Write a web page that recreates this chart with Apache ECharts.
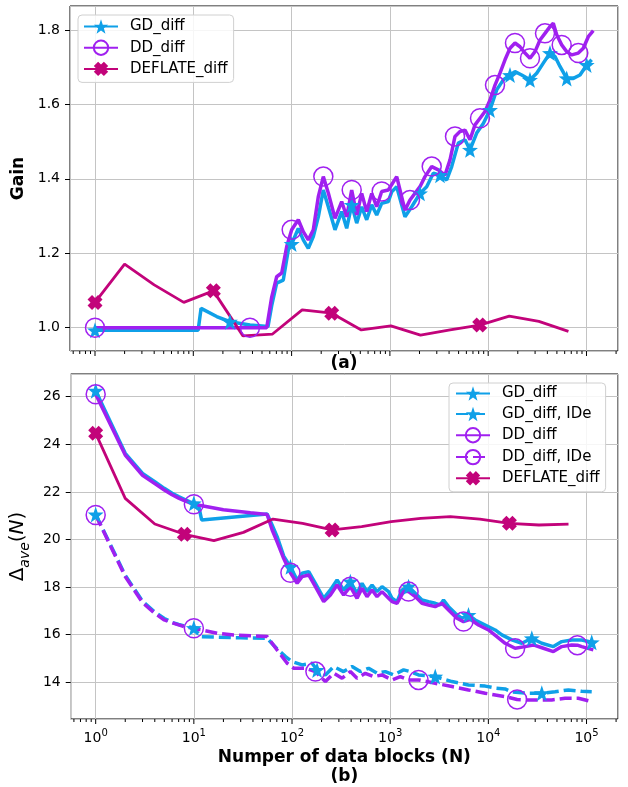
<!DOCTYPE html>
<html>
<head>
<meta charset="utf-8">
<script src="https://cdn.jsdelivr.net/npm/echarts@6/dist/echarts.min.js"></script>
<style>
  html, body { margin: 0; padding: 0; background: #fff; }
  #chart { width: 628px; height: 787px; }
</style>
</head>
<body>
<div id="chart"></div>
<script>
const deflateN = [1, 2, 4, 8, 16, 32, 64, 128, 256, 512, 1024, 2048, 4096, 8192, 16384, 32768, 65536];
const deflateGain = [1.068, 1.171, 1.115, 1.068, 1.099, 0.978, 0.983, 1.048, 1.039, 0.994, 1.005, 0.98, 0.994, 1.007, 1.031, 1.017, 0.99];
const deflateDelta = [24.46, 21.73, 20.65, 20.22, 19.95, 20.3, 20.86, 20.68, 20.4, 20.54, 20.75, 20.89, 20.96, 20.86, 20.68, 20.61, 20.65];
const deflateGainMarks = [1, 16, 256, 8192];
const deflateDeltaMarks = [1, 8, 256, 16384];

// (a) gain
const gdGain = [[1,0.993],[2,0.993],[4,0.993],[8,0.993],[11.2,0.993],[12,1.052],[17.3,1.03],[23.6,1.016],[37.7,1.007],[57.5,1.003],[62.8,1.06],[70.5,1.12],[82.3,1.128],[92.5,1.209],[100.2,1.225],[117,1.267],[131.5,1.236],[147.9,1.213],[166.3,1.245],[186.9,1.298],[210.2,1.37],[236.3,1.325],[276.4,1.263],[323.3,1.312],[363.5,1.267],[408.7,1.33],[459.5,1.281],[516.6,1.325],[580.7,1.29],[653.1,1.33],[734.1,1.303],[825.3,1.334],[963.1,1.339],[1043,1.365],[1173,1.379],[1424,1.298],[1667,1.325],[2024,1.361],[2367,1.379],[2764,1.415],[3234,1.41],[3783,1.397],[4253,1.433],[4964,1.496],[5808,1.505],[6529,1.478],[7638,1.523],[8919,1.549],[10430,1.585],[12204,1.639],[14242,1.666],[16668,1.679],[18732,1.688],[21922,1.679],[26622,1.666],[31150,1.684],[36354,1.711],[42530,1.738],[47830,1.729],[53760,1.702],[62900,1.67],[73410,1.67],[85890,1.679],[100460,1.706],[112950,1.72]];
const gdGainMarks = [1, 23.6, 100.2, 408.7, 2024, 3234, 6529, 10430, 16668, 26622, 42530, 62900, 100460];

const ddGain = [[1,1.0],[10,1.0],[37.7,1.0],[55.8,1.0],[62.8,1.083],[70.5,1.137],[79.3,1.147],[89.2,1.218],[100.2,1.263],[117,1.29],[131.5,1.258],[147.9,1.236],[166.3,1.263],[186.9,1.352],[210.2,1.406],[236.3,1.362],[276.4,1.294],[323.3,1.339],[363.5,1.298],[408.7,1.37],[459.5,1.303],[516.6,1.361],[580.7,1.312],[653.1,1.361],[734.1,1.325],[825.3,1.366],[963.1,1.37],[1173,1.406],[1424,1.316],[1601,1.343],[2024,1.379],[2275,1.406],[2663,1.433],[3108,1.424],[3635,1.41],[4088,1.451],[4596,1.514],[5166,1.527],[5808,1.531],[6529,1.505],[7341,1.545],[8253,1.563],[9278,1.581],[10430,1.612],[11728,1.652],[13183,1.684],[14823,1.72],[16668,1.751],[18732,1.765],[21066,1.755],[23681,1.738],[26622,1.724],[29935,1.742],[33651,1.773],[37830,1.791],[42530,1.809],[45950,1.818],[49770,1.787],[55940,1.76],[62900,1.742],[70700,1.733],[82530,1.738],[92780,1.751],[104300,1.782],[117280,1.798]];
const ddGainMarks = [1, 37.7, 100.2, 210.2, 408.7, 825.3, 1601, 2663, 4596, 8253, 11728, 18732, 26622, 37830, 55940, 82530];

// (b) average delta
const gdDelta = [[1,26.25],[2,23.62],[3,22.78],[4,22.43],[5,22.15],[6,21.94],[7,21.8],[8,21.69],[9,21.59],[10,21.52],[11.2,21.4],[12,20.82],[55.8,21.07],[62.8,20.6],[70.5,20.12],[82.3,19.3],[96.3,18.85],[112.7,18.3],[126.7,18.58],[147.9,18.65],[173,18.16],[210.2,17.53],[245.9,17.88],[287.6,18.3],[335.6,17.88],[392.8,18.23],[459.5,17.74],[516.6,18.16],[580.7,17.81],[653.1,18.09],[734.1,17.81],[825.3,18.02],[963.1,17.81],[1043,17.53],[1173,17.39],[1318,17.88],[1539,18.02],[1800,17.74],[2107,17.46],[2458,17.39],[2876,17.32],[3234,17.25],[3493,17.46],[3928,17.18],[4596,16.9],[5376,16.69],[6274,16.83],[7341,16.62],[9278,16.41],[11728,16.2],[13719,15.99],[17338,15.78],[21922,15.64],[27704,15.85],[35020,15.64],[45950,15.5],[55940,15.71],[70700,15.78],[89370,15.78],[112950,15.68]];
const gdDeltaMarks = [1, 10, 96.3, 392.8, 1539, 6274, 27704, 112950];

const gdIde = [[1,21.05],[2,18.5],[3,17.4],[4,16.95],[5,16.68],[6,16.52],[7,16.43],[8,16.37],[9,16.32],[10,16.28],[11.7,15.92],[30,15.87],[55.8,15.85],[70.5,15.4],[85.9,15.08],[100.2,14.87],[126.7,14.73],[160.1,14.8],[180,14.52],[218.7,14.31],[265.6,14.66],[335.6,14.45],[408.7,14.66],[496.4,14.45],[603,14.59],[734.1,14.38],[891.8,14.45],[1083,14.31],[1369,14.52],[1601,14.45],[1945,14.31],[2876,14.24],[4253,14.03],[6274,13.89],[9278,13.84],[11728,13.76],[14823,13.72],[17338,13.6],[25577,13.54],[35020,13.54],[47830,13.6],[65290,13.68],[89370,13.62],[112950,13.6]];
const gdIdeMarks = [1, 10, 180, 2876, 35020];

const ddDelta = [[1,26.1],[2,23.55],[3,22.7],[4,22.35],[5,22.08],[6,21.88],[7,21.74],[8,21.63],[9,21.55],[10,21.48],[20,21.25],[37.7,21.12],[55.8,21.05],[62.8,20.4],[70.5,19.9],[82.3,19.2],[96.3,18.6],[112.7,18.16],[126.7,18.44],[147.9,18.51],[173,18.02],[210.2,17.39],[245.9,17.67],[287.6,18.09],[335.6,17.67],[392.8,18.02],[459.5,17.53],[516.6,17.95],[580.7,17.6],[653.1,17.88],[734.1,17.6],[825.3,17.81],[963.1,17.53],[1043,17.39],[1173,17.32],[1369,17.81],[1539,17.81],[1800,17.6],[2107,17.32],[2458,17.25],[2876,17.18],[3365,17.32],[3928,17.04],[4782,16.69],[5582,16.55],[6529,16.65],[7930,16.41],[10023,16.2],[12204,15.92],[14823,15.64],[18732,15.43],[23681,15.5],[28760,15.57],[36354,15.43],[45950,15.29],[55940,15.5],[70700,15.57],[80620,15.56],[89370,15.5],[117280,15.36]];
const ddDeltaMarks = [1, 10, 96.3, 392.8, 1539, 5582, 18732, 80620];

const ddIde = [[1,21.03],[2,18.44],[3,17.35],[4,16.9],[5,16.62],[6,16.5],[7,16.41],[8,16.34],[9,16.3],[10,16.27],[17.3,16.06],[25.5,15.99],[55.8,15.92],[70.5,15.36],[89.2,14.8],[104.1,14.59],[136.9,14.59],[173,14.45],[218.7,14.03],[265.6,14.38],[323.3,14.17],[392.8,14.45],[459.5,14.17],[558.1,14.38],[677.9,14.24],[825.3,14.31],[1043,14.1],[1267,14.24],[1539,14.1],[1945,14.1],[2876,13.96],[4253,13.82],[6274,13.68],[9278,13.54],[14823,13.4],[19640,13.28],[23681,13.26],[32337,13.26],[44260,13.26],[60440,13.33],[82530,13.33],[112950,13.19]];
const ddIdeMarks = [1, 10, 173, 1945, 19640];

// log axis ticks
const majorTicks = [1, 10, 100, 1000, 10000, 100000];
const minorTicks = [0.6, 0.7, 0.8, 0.9, 2, 3, 4, 5, 6, 7, 8, 9, 20, 30, 40, 50, 60, 70, 80, 90,
  200, 300, 400, 500, 600, 700, 800, 900, 2000, 3000, 4000, 5000, 6000, 7000, 8000, 9000,
  20000, 30000, 40000, 50000, 60000, 70000, 80000, 90000, 200000];

const BLUE = '#0fa0e8', PURPLE = '#a020f0', MAGENTA = '#c2037a';
const FONT = 'DejaVu Sans';
const STAR = 'path://M0,-10L2.35,-3.24L9.51,-3.09L3.8,1.24L5.88,8.09L0,4.2L-5.88,8.09L-3.8,1.24L-9.51,-3.09L-2.35,-3.24Z';
const XMARK = 'path://M3,0L5,2L7,0L10,3L8,5L10,7L7,10L5,8L3,10L0,7L2,5L0,3Z';

let chart = echarts.init(document.getElementById('chart'), null, { renderer: 'canvas' });

function withMarks(points, marks) {
    return points.map(p => marks.indexOf(p[0]) >= 0 ? { value: p } : { value: p, symbol: 'none' });
}

function lineSeries(name, points, marks, color, kind, idx, dashed) {
    let s = {
        name: name,
        type: 'line',
        xAxisIndex: idx,
        yAxisIndex: idx,
        data: withMarks(points, marks),
        showSymbol: true,
        showAllSymbol: true,
        lineStyle: { color: color, width: 3.5, type: dashed ? [12, 5] : 'solid' },
        emphasis: { disabled: true },
        z: 3
    };
    if (kind === 'star') {
        s.symbol = STAR; s.symbolSize = 16;
        s.itemStyle = { color: color };
    } else if (kind === 'circle') {
        s.symbol = 'circle'; s.symbolSize = 19;
        s.itemStyle = { color: 'rgba(255,255,255,0)', borderColor: color, borderWidth: 1.5 };
    } else {
        s.symbol = XMARK; s.symbolSize = 15;
        s.itemStyle = { color: color };
        s.lineStyle.width = 2.8;
    }
    return s;
}

function tickSeries(idx, vals, len, yVal) {
    return {
        type: 'custom',
        xAxisIndex: idx,
        yAxisIndex: idx,
        silent: true,
        clip: false,
        data: vals.map(v => [v, yVal]),
        renderItem: function (params, api) {
            let x = api.coord([api.value(0), api.value(1)])[0];
            let cs = params.coordSys;
            let y = cs.y + cs.height;
            return { type: 'line', shape: { x1: x, y1: y, x2: x, y2: y + len }, style: { stroke: '#000', lineWidth: 1 } };
        }
    };
}

function xAxis(idx, showLabels) {
    return {
        type: 'log',
        logBase: 10,
        gridIndex: idx,
        min: 0.5567,
        max: 209200,
        axisLine: { show: false },
        axisTick: { show: false },
        splitLine: { show: true, lineStyle: { color: '#c4c4c4', width: 1 } },
        axisLabel: {
            show: showLabels,
            margin: 9,
            formatter: function (v) {
                let e = Math.log10(v);
                if (Math.abs(e - Math.round(e)) > 1e-6) return '';
                return '{b|10}{e|' + Math.round(e) + '}';
            },
            rich: {
                b: { fontSize: 14, fontFamily: FONT, color: '#000', lineHeight: 20 },
                e: { fontSize: 10, fontFamily: FONT, color: '#000', lineHeight: 11, verticalAlign: 'top' }
            }
        }
    };
}

let option = {
    animation: false,
    backgroundColor: '#fff',
    textStyle: { fontFamily: FONT },
    grid: [
        { left: 70, right: 10, top: 6, height: 345, show: true, borderColor: '#000', borderWidth: 1, backgroundColor: 'transparent' },
        { left: 70, right: 10, top: 374, height: 345, show: true, borderColor: '#000', borderWidth: 1, backgroundColor: 'transparent' }
    ],
    xAxis: [
        Object.assign(xAxis(0, false), {
            name: '(a)', nameLocation: 'middle', nameGap: 4,
            nameTextStyle: { fontSize: 17, fontWeight: 'bold', color: '#000', fontFamily: FONT }
        }),
        Object.assign(xAxis(1, true), {
            name: 'Numper of data blocks (N)\n(b)', nameLocation: 'middle', nameGap: 29,
            nameTextStyle: { fontSize: 17, fontWeight: 'bold', color: '#000', fontFamily: FONT, lineHeight: 19, align: 'center' }
        })
    ],
    yAxis: [
        {
            type: 'value', gridIndex: 0, min: 0.9374, max: 1.8645, splitNumber: 5,
            name: 'Gain', nameLocation: 'middle', nameGap: 37, nameRotate: 90,
            nameTextStyle: { fontSize: 17, fontWeight: 'bold', color: '#000', fontFamily: FONT },
            axisLine: { show: false },
            axisTick: { show: true, inside: false, length: 5, lineStyle: { color: '#000' } },
            splitLine: { lineStyle: { color: '#c4c4c4', width: 1 } },
            axisLabel: { fontSize: 14, color: '#000', margin: 10, showMinLabel: false, showMaxLabel: false,
                formatter: v => v.toFixed(1) }
        },
        {
            type: 'value', gridIndex: 1, min: 12.458, max: 26.954, splitNumber: 7,
            name: '{a|Δ}{s|ave}{a|(}{i|N}{a|)}', nameLocation: 'middle', nameGap: 30, nameRotate: 90,
            nameTextStyle: {
                rich: {
                    a: { fontSize: 20, fontFamily: FONT, color: '#000', lineHeight: 28 },
                    i: { fontSize: 20, fontFamily: FONT, fontStyle: 'italic', color: '#000', lineHeight: 28 },
                    s: { fontSize: 14, fontFamily: FONT, fontStyle: 'italic', color: '#000', lineHeight: 14, verticalAlign: 'bottom' }
                }
            },
            axisLine: { show: false },
            axisTick: { show: true, inside: false, length: 5, lineStyle: { color: '#000' } },
            splitLine: { lineStyle: { color: '#c4c4c4', width: 1 } },
            axisLabel: { fontSize: 14, color: '#000', margin: 10, showMinLabel: false, showMaxLabel: false,
                formatter: v => String(Math.round(v)) }
        }
    ],
    legend: [
        {
            data: ['GD_diff', 'DD_diff', 'DEFLATE_diff'],
            orient: 'vertical', left: 78, top: 15,
            itemWidth: 34, itemHeight: 18, itemGap: 5.5,
            padding: [4, 6, 6, 5],
            backgroundColor: 'rgba(255,255,255,0.85)', borderColor: '#d0d0d0', borderWidth: 1, borderRadius: 4,
            textStyle: { fontSize: 15, color: '#000', fontFamily: FONT, padding: [0, 0, 0, 7] },
            selectedMode: false
        },
        {
            data: ['GD_diff', 'GD_diff, IDe', 'DD_diff', 'DD_diff, IDe', 'DEFLATE_diff'],
            orient: 'vertical', left: 449, top: 383,
            itemWidth: 34, itemHeight: 18, itemGap: 5.5,
            padding: [3, 6, 6, 6],
            backgroundColor: 'rgba(255,255,255,0.85)', borderColor: '#d0d0d0', borderWidth: 1, borderRadius: 4,
            textStyle: { fontSize: 15, color: '#000', fontFamily: FONT, padding: [0, 0, 0, 7] },
            selectedMode: false
        }
    ],
    series: [
        lineSeries('GD_diff', gdGain, gdGainMarks, BLUE, 'star', 0, false),
        lineSeries('DD_diff', ddGain, ddGainMarks, PURPLE, 'circle', 0, false),
        lineSeries('DEFLATE_diff', deflateN.map((n, i) => [n, deflateGain[i]]), deflateGainMarks, MAGENTA, 'x', 0, false),
        lineSeries('GD_diff', gdDelta, gdDeltaMarks, BLUE, 'star', 1, false),
        lineSeries('GD_diff, IDe', gdIde, gdIdeMarks, BLUE, 'star', 1, true),
        lineSeries('DD_diff', ddDelta, ddDeltaMarks, PURPLE, 'circle', 1, false),
        lineSeries('DD_diff, IDe', ddIde, ddIdeMarks, PURPLE, 'circle', 1, true),
        lineSeries('DEFLATE_diff', deflateN.map((n, i) => [n, deflateDelta[i]]), deflateDeltaMarks, MAGENTA, 'x', 1, false),
        tickSeries(0, majorTicks, 5, 1.2),
        tickSeries(0, minorTicks, 3, 1.2),
        tickSeries(1, majorTicks, 5, 20),
        tickSeries(1, minorTicks, 3, 20)
    ]
};
chart.setOption(option);

window.addEventListener('resize', function() {
    chart.resize();
});
</script>
</body>
</html>
